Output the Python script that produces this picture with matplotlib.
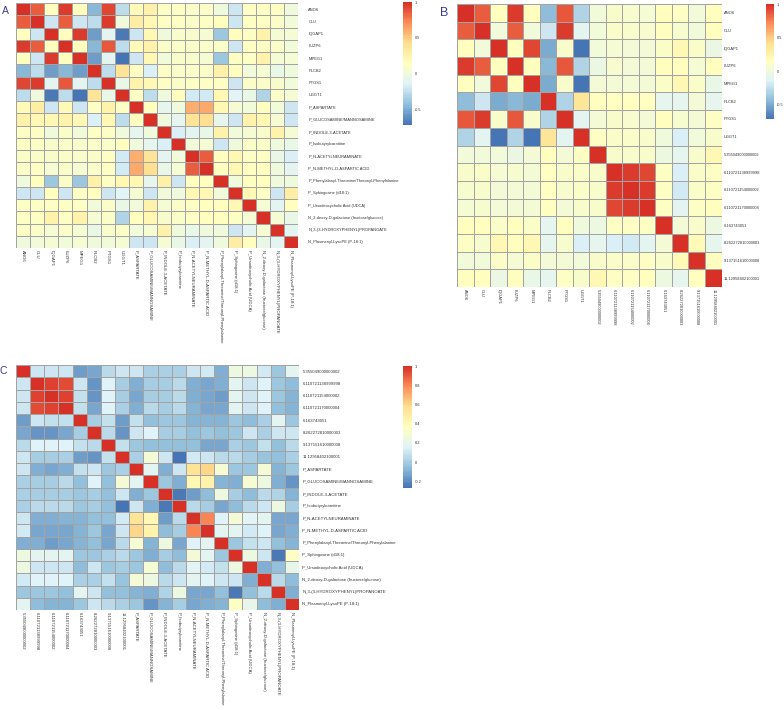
import numpy as np
import matplotlib
matplotlib.use("Agg")
import matplotlib.pyplot as plt
from matplotlib.colors import LinearSegmentedColormap, Normalize
from matplotlib.cm import ScalarMappable

plt.rcParams['font.family'] = ['Liberation Sans', 'DejaVu Sans']

genes = ["ANO6", "CLU", "IQGAP1", "LUZP6", "MPEG1", "PLCB2", "PTGS1", "UGGT1"]
metabolites = ["P_ASPARTATE", "P_GLUCOSAMINE/MANNOSAMINE", "P_INDOLE-3-ACETATE",
               "P_Isobutyrylcarnitine", "P_N-ACETYLNEURAMINATE", "P_N-METHYL-D-ASPARTIC ACID",
               "P_Phenylalanyl-Threonine/Threonyl-Phenylalanine", "P_Sphingosine (d18:1)",
               "P_Ursodeoxycholic Acid (UDCA)", "N_2-deoxy-D-galactose (fructose/glucose)",
               "N_3-(3-HYDROXYPHENYL)PROPANOATE", "N_Plasmenyl-LysoPE (P-18:1)"]
numeric = ["5.355049000000002", "6.110721138999998", "6.110721154000002", "6.110721170000004",
           "6.163743051", "8.262272810000003", "9.137151610000008", "11.12958402100001"]

A_labels = genes + metabolites
B_labels = genes + numeric
C_labels = numeric + metabolites

# lower triangles (row i holds columns 0..i)
A_lower = [
    [1],
    [0.85, 1],
    [0.15, -0.2, 1],
    [0.95, 0.85, 0.15, 1],
    [0.15, -0.2, 0.95, 0.15, 1],
    [-0.45, -0.25, -0.55, -0.45, -0.55, 1],
    [0.92, 0.95, -0.1, 0.88, -0.1, -0.25, 1],
    [-0.25, 0.0, -0.68, -0.25, -0.71, 0.4, -0.05, 1],
    [0.18, 0.3, -0.2, 0.18, -0.2, 0.12, 0.25, 0.12, 1],
    [0.28, 0.2, 0.2, 0.25, 0.2, -0.15, 0.2, -0.25, 0.15, 1],
    [0.12, 0.12, 0.0, 0.1, 0.02, 0.12, 0.12, 0.0, -0.08, 0.0, 1],
    [0.12, 0.12, 0.08, 0.1, 0.08, 0.1, 0.1, 0.15, 0.0, -0.08, -0.15, 1],
    [0.1, 0.1, 0.08, 0.1, 0.08, 0.1, 0.12, -0.18, 0.6, 0.4, -0.1, 0.02, 1],
    [0.1, 0.12, 0.05, 0.1, 0.05, 0.1, 0.12, -0.18, 0.62, 0.42, -0.05, 0.05, 0.85, 1],
    [0.0, 0.15, -0.38, 0.1, -0.38, 0.28, 0.12, 0.22, 0.22, -0.08, 0.28, -0.2, 0.15, 0.15, 1],
    [-0.2, -0.2, 0.15, -0.2, 0.12, 0.15, -0.2, -0.12, 0.05, -0.2, 0.02, 0.0, 0.22, 0.2, 0.02, 1],
    [0.12, 0.12, 0.12, 0.12, 0.12, 0.02, 0.1, -0.05, 0.02, 0.25, 0.05, 0.1, 0.12, 0.15, 0.15, 0.2, 1],
    [0.12, 0.12, 0.25, 0.12, 0.25, 0.05, 0.1, -0.3, 0.15, 0.22, 0.08, 0.1, 0.12, 0.15, 0.15, 0.12, 0.05, 1],
    [0.12, 0.1, 0.05, 0.1, 0.05, -0.05, 0.08, 0.1, 0.02, 0.05, 0.25, 0.0, -0.05, 0.0, 0.0, -0.2, -0.1, 0.05, 1],
    [0.0, 0.02, 0.05, 0.02, 0.05, 0.0, 0.02, 0.05, -0.2, -0.2, 0.05, -0.05, -0.15, -0.1, 0.0, 0.3, 0.15, -0.05, -0.1, 1],
]

B_lower = [
    [1],
    [0.85, 1],
    [0.15, 0.02, 1],
    [0.95, 0.85, 0.15, 1],
    [0.15, 0.02, 0.92, 0.15, 1],
    [-0.42, -0.2, -0.5, -0.45, -0.5, 1],
    [0.88, 0.95, 0.08, 0.88, 0.08, -0.3, 1],
    [-0.3, -0.1, -0.71, -0.3, -0.71, 0.38, -0.1, 1],
    [0.02, 0.02, 0.02, -0.03, 0.03, 0.15, 0.03, 0.12, 1],
    [0.08, 0.1, 0.05, 0.06, 0.04, 0.14, 0.08, 0.1, 0.08, 1],
    [0.06, 0.08, 0.04, 0.04, 0.03, 0.14, 0.06, 0.1, 0.08, 0.95, 1],
    [0.05, 0.06, 0.03, 0.04, 0.03, 0.14, 0.04, 0.08, 0.08, 0.93, 0.95, 1],
    [0.15, 0.15, 0.1, 0.15, 0.1, -0.08, 0.15, 0.0, -0.02, 0.12, 0.12, 0.12, 1],
    [0.12, 0.06, 0.2, 0.15, 0.2, -0.08, 0.06, -0.15, -0.08, -0.15, -0.18, -0.1, 0.03, 1],
    [0.02, 0.02, 0.1, 0.05, 0.1, 0.03, 0.03, 0.02, 0.08, 0.1, 0.1, 0.12, 0.08, 0.18, 1],
    [0.15, 0.15, -0.03, 0.15, -0.05, -0.08, 0.12, 0.08, 0.2, 0.12, 0.12, 0.15, -0.02, -0.08, 0.15, 1],
]

C_lower = [
    [1],
    [0.1, 1],
    [0.1, 0.95, 1],
    [0.1, 0.93, 0.95, 1],
    [-0.15, 0.1, 0.08, 0.08, 1],
    [-0.12, -0.17, -0.18, -0.12, 0.0, 1],
    [0.05, 0.15, 0.15, 0.15, 0.08, 0.05, 1],
    [0.1, 0.0, 0.0, 0.02, -0.15, -0.18, 0.08, 1],
    [0.1, -0.1, -0.12, -0.1, 0.08, 0.1, -0.02, 0.02, 1],
    [0.02, 0.0, 0.0, 0.05, -0.05, 0.15, -0.05, 0.28, 0.18, 1],
    [0.02, 0.0, 0.0, 0.0, -0.02, 0.0, -0.05, 0.1, -0.1, -0.02, 1],
    [0.02, 0.05, 0.05, 0.05, -0.02, 0.0, -0.05, -0.27, 0.1, -0.1, -0.25, 1],
    [0.1, -0.1, -0.1, -0.08, -0.08, -0.05, -0.05, 0.12, 0.55, 0.42, -0.15, 0.05, 1],
    [0.12, -0.12, -0.12, -0.12, -0.08, -0.02, -0.12, 0.1, 0.6, 0.45, -0.06, 0.0, 0.8, 1],
    [-0.1, -0.1, -0.15, -0.12, -0.08, -0.05, -0.12, 0.05, 0.3, -0.08, 0.25, -0.12, 0.15, 0.18, 1],
    [0.25, 0.18, 0.18, 0.18, -0.02, -0.02, 0.02, 0.05, -0.02, -0.1, 0.0, -0.06, 0.28, 0.18, -0.02, 1],
    [0.25, 0.1, 0.1, 0.1, -0.06, 0.1, -0.02, 0.0, -0.02, 0.3, -0.06, 0.05, 0.17, 0.12, 0.08, 0.25, 1],
    [0.12, 0.15, 0.15, 0.15, 0.02, 0.02, 0.08, -0.03, 0.28, 0.25, 0.05, 0.1, 0.18, 0.15, 0.1, 0.1, -0.1, 1],
    [-0.02, -0.02, -0.02, -0.05, 0.18, 0.1, -0.05, -0.05, -0.08, -0.1, 0.03, 0.25, -0.12, -0.12, -0.05, -0.25, -0.05, 0.05, 1],
    [0.18, -0.06, -0.08, -0.08, -0.02, 0.1, 0.05, 0.02, -0.02, -0.18, -0.08, 0.0, -0.12, -0.1, -0.08, 0.35, 0.2, -0.06, -0.1, 1],
]

A_ticks = [-0.5, 0, 0.5, 1]
B_ticks = [-0.5, 0, 0.5, 1]
C_ticks = [-0.2, 0, 0.2, 0.4, 0.6, 0.8, 1]


def full(lower):
    n = len(lower)
    m = np.zeros((n, n))
    for i, row in enumerate(lower):
        for j, v in enumerate(row):
            m[i, j] = v
            m[j, i] = v
    return m


cmap = LinearSegmentedColormap.from_list(
    "pheat", ["#4575B4", "#91BFDB", "#E0F3F8", "#FFFFBF", "#FEE090", "#FC8D59", "#D73027"], N=100)

W, H = 784, 710
fig = plt.figure(figsize=(W / 100, H / 100), dpi=100)


def px_axes(x0, y0, x1, y1):
    return fig.add_axes([x0 / W, 1 - y1 / H, (x1 - x0) / W, (y1 - y0) / H])


def heat(box, cbox, lower, labels, ticks, fs, xfs, ypad, letter, lpos, lsize):
    M = full(lower)
    n = len(labels)
    vmin, vmax = M.min(), M.max()
    ax = px_axes(*box)
    ax.pcolormesh(M, cmap=cmap, vmin=vmin, vmax=vmax, edgecolors="#A3A3A3", linewidth=0.6)
    ax.set_xlim(0, n)
    ax.set_ylim(n, 0)
    for s in ax.spines.values():
        s.set_visible(False)
    ax.yaxis.tick_right()
    ax.set_yticks(np.arange(n) + 0.5)
    ax.set_yticklabels(labels, fontsize=fs, color="#333333")
    ax.set_xticks(np.arange(n) + 0.5)
    ax.set_xticklabels(labels, fontsize=xfs, rotation=270, color="#333333", va="top", ha="center")
    ax.tick_params(axis="y", length=0, pad=ypad)
    ax.tick_params(axis="x", length=0, pad=1.5)
    cax = px_axes(*cbox)
    cb = fig.colorbar(ScalarMappable(norm=Normalize(vmin, vmax), cmap=cmap), cax=cax, ticks=ticks)
    cb.outline.set_visible(False)
    cb.ax.tick_params(length=0, labelsize=fs * 0.95, pad=2, labelcolor="#333333")
    cb.ax.set_yticklabels(["%g" % t for t in ticks])
    fig.text(lpos[0] / W, 1 - lpos[1] / H, letter, fontsize=lsize, color="#3b3b96",
             ha="left", va="center")


heat((16, 3, 298, 248), (403, 2, 412, 125), A_lower, A_labels, A_ticks, 2.85, 3.05, 7.5, "A", (1.5, 10.5), 7.5)
heat((457, 4, 721.5, 287), (766, 4, 774, 119), B_lower, B_labels, B_ticks, 2.9, 2.9, 1.5, "B", (440, 13.5), 9)
heat((16, 365, 299, 610), (403, 366, 412, 488), C_lower, C_labels, C_ticks, 3.05, 3.05, 2.5, "C", (0, 371), 7.5)

fig.savefig("out.png", dpi=100)
